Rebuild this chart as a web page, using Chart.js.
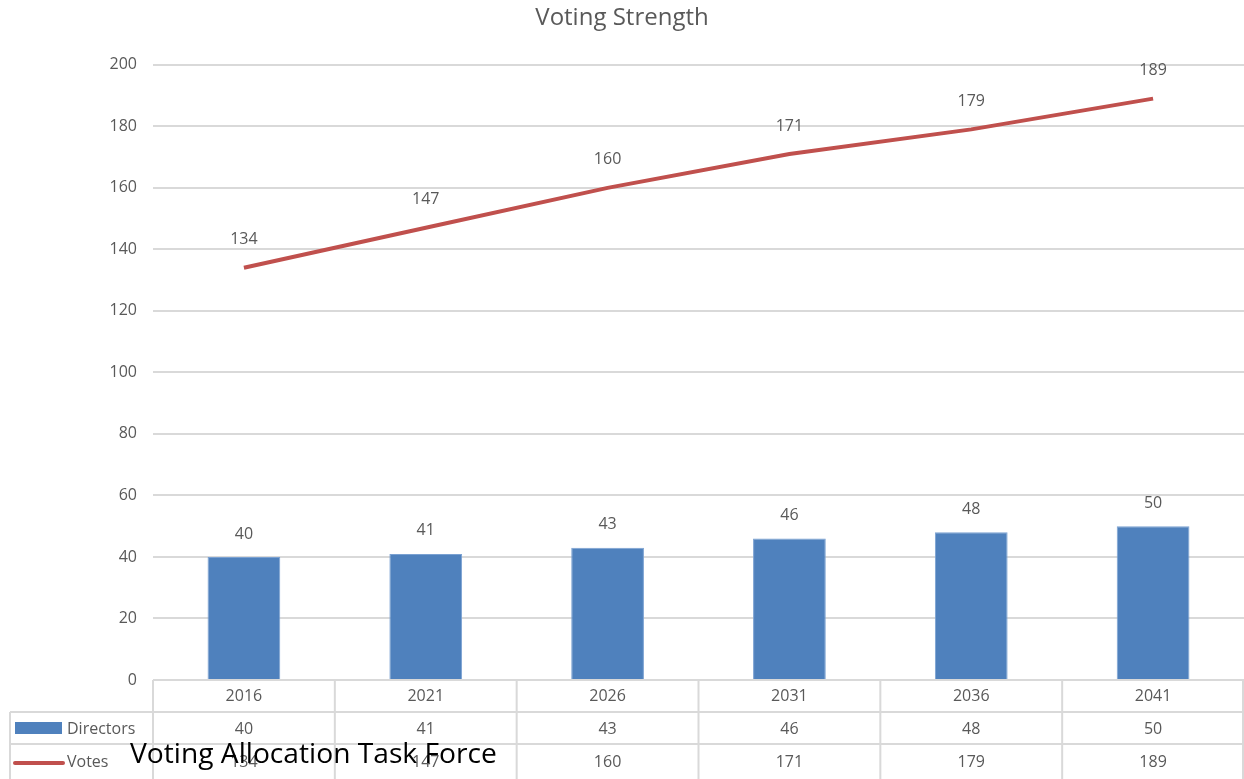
<!DOCTYPE html>
<html>
<head>
<meta charset="utf-8">
<script src="https://cdn.jsdelivr.net/npm/chart.js@4"></script>
<style>
  html, body { margin: 0; padding: 0; background: #fff; }
  #wrap { width: 1244px; height: 779px; position: relative; }
</style>
</head>
<body>
<div id="wrap"><canvas id="votingChart"></canvas></div>
<script>
const years = ['2016', '2021', '2026', '2031', '2036', '2041'];
const directors = [40, 41, 43, 46, 48, 50];
const votes = [134, 147, 160, 171, 179, 189];
const yTicks = [0, 20, 40, 60, 80, 100, 120, 140, 160, 180, 200];
const footerText = 'Voting Allocation Task Force';

const FONT = '"Open Sans", "DejaVu Sans", sans-serif';
const GREY = '#595959';
const LINE_GREY = '#d9d9d9';
const BLUE = '#4f81bd';
const RED = '#c0504d';

// labels over bars / points + the data table under the plot
const tablePlugin = {
    id: 'tablePlugin',
    afterDraw(chart) {
        const ctx = chart.ctx;
        const area = chart.chartArea;
        const x = chart.scales.x;
        const catW = (area.right - area.left) / years.length;

        ctx.save();
        ctx.font = '16px ' + FONT;
        ctx.fillStyle = GREY;
        ctx.textAlign = 'center';
        ctx.textBaseline = 'middle';

        // value labels
        chart.getDatasetMeta(0).data.forEach((el, i) => {
            ctx.fillText(String(directors[i]), el.x, el.y - 23);
        });
        chart.getDatasetMeta(1).data.forEach((el, i) => {
            ctx.fillText(String(votes[i]), el.x, el.y - 28);
        });

        // table grid
        const rowTop = area.bottom;
        const rowH = 32;
        const tableLeft = 10;
        const bottom = chart.height + 2;
        ctx.strokeStyle = LINE_GREY;
        ctx.lineWidth = 2;
        ctx.beginPath();
        ctx.moveTo(area.left, rowTop); ctx.lineTo(area.right, rowTop);
        ctx.moveTo(tableLeft, rowTop + rowH); ctx.lineTo(area.right, rowTop + rowH);
        ctx.moveTo(tableLeft, rowTop + rowH * 2); ctx.lineTo(area.right, rowTop + rowH * 2);
        ctx.moveTo(tableLeft, rowTop + rowH); ctx.lineTo(tableLeft, bottom);
        for (let i = 0; i <= years.length; i++) {
            const bx = Math.min(area.left + catW * i, area.right - 1);
            ctx.moveTo(bx, rowTop); ctx.lineTo(bx, bottom);
        }
        ctx.stroke();

        // table text
        years.forEach((y, i) => {
            const cx = x.getPixelForValue(i);
            ctx.fillText(y, cx, rowTop + 16);
            ctx.fillText(String(directors[i]), cx, rowTop + rowH + 17);
            ctx.fillText(String(votes[i]), cx, rowTop + rowH * 2 + 18);
        });

        // legend keys
        ctx.fillStyle = BLUE;
        ctx.fillRect(15, rowTop + 42, 47, 12);
        ctx.strokeStyle = RED;
        ctx.lineWidth = 4;
        ctx.lineCap = 'round';
        ctx.beginPath();
        ctx.moveTo(15, rowTop + rowH * 2 + 19);
        ctx.lineTo(63, rowTop + rowH * 2 + 19);
        ctx.stroke();
        ctx.fillStyle = GREY;
        ctx.textAlign = 'left';
        ctx.fillText('Directors', 67, rowTop + rowH + 17);
        ctx.fillText('Votes', 67, rowTop + rowH * 2 + 18);

        // overlay caption
        let size = 30;
        ctx.font = size + 'px ' + FONT;
        size = size * 367 / ctx.measureText(footerText).width;
        ctx.font = size + 'px ' + FONT;
        ctx.fillStyle = '#000';
        ctx.fillText(footerText, 130, 755);
        ctx.restore();
    }
};

new Chart(document.getElementById('votingChart'), {
    type: 'bar',
    data: {
        labels: years,
        datasets: [
            {
                label: 'Directors',
                data: directors,
                backgroundColor: BLUE,
                borderColor: '#7aa1d2',
                borderWidth: 1,
                barPercentage: 0.4,
                categoryPercentage: 1,
                order: 2
            },
            {
                type: 'line',
                label: 'Votes',
                data: votes,
                borderColor: RED,
                borderWidth: 4,
                pointRadius: 0,
                tension: 0,
                fill: false,
                order: 1
            }
        ]
    },
    options: {
        responsive: true,
        maintainAspectRatio: false,
        animation: false,
        layout: { padding: { top: 0, right: 0, bottom: 99, left: 0 } },
        plugins: {
            legend: { display: false },
            tooltip: { enabled: false },
            title: {
                display: true,
                text: 'Voting Strength',
                color: GREY,
                font: { family: FONT, size: 24, weight: 'normal' },
                padding: { top: 4, bottom: 32 }
            }
        },
        scales: {
            x: {
                display: false,
                offset: true
            },
            y: {
                min: 0,
                max: 200,
                afterFit(scale) { scale.width = 153; },
                afterBuildTicks(scale) { scale.ticks = yTicks.map(v => ({ value: v })); },
                ticks: {
                    color: GREY,
                    font: { family: FONT, size: 16 },
                    padding: 16
                },
                grid: { color: LINE_GREY, lineWidth: 2, drawTicks: false },
                border: { display: false }
            }
        }
    },
    plugins: [tablePlugin]
});
</script>
</body>
</html>
